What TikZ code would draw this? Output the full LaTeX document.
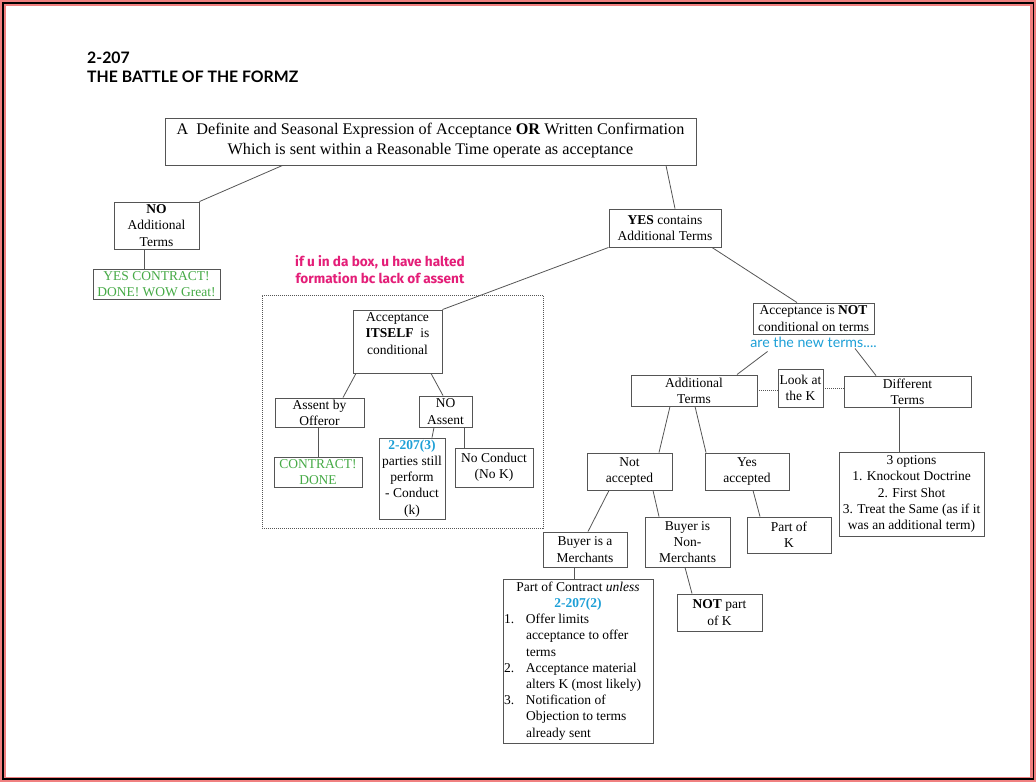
\documentclass[tikz,border=0pt]{standalone}
\usepackage{fontspec}
\setmainfont{Liberation Serif}
\newfontfamily\titlefont{Lato}
\newfontfamily\notefont{Fira Sans}
\usepackage{tikz}
\usetikzlibrary{positioning}

\definecolor{frame_pink}{RGB}{240,128,128}
\definecolor{note_pink}{RGB}{228,30,120}
\definecolor{rule_blue}{RGB}{30,160,215}
\definecolor{ok_green}{RGB}{70,170,70}
\definecolor{box_gray}{RGB}{85,85,85}

\tikzset{
  box_node/.style={draw=box_gray, line width=0.9pt, inner sep=1pt, align=center, font=\fontsize{13.5}{16.2}\selectfont},
  link/.style={draw=box_gray, line width=0.8pt},
  look_link/.style={draw=box_gray, line width=0.9pt, dash pattern=on 1pt off 1pt}
}

\begin{document}
\begin{tikzpicture}[
        x=1pt, y=-1pt,
        title_label/.style={font=\titlefont\bfseries\fontsize{15.8}{19}\selectfont, align=left, inner sep=0pt},
        note_label/.style={font=\notefont\bfseries\fontsize{13.6}{17}\selectfont, text=note_pink, align=center, inner sep=0pt},
        blue_label/.style={font=\titlefont\fontsize{14.2}{17}\selectfont, text=rule_blue, inner sep=0pt},
        halt_box/.style={draw=box_gray, line width=0.9pt, dash pattern=on 1pt off 1pt, inner sep=0pt}
    ]
    \useasboundingbox (0,0) rectangle (1036,782);

    % Marco
    \fill[frame_pink] (0,0) rectangle (1036,782);
    \draw[black, line width=1.6pt] (3,3) rectangle (1033.5,779);
    \fill[white] (5.5,5.5) rectangle (1030,776.5);

    \node[title_label, anchor=north west] (title) at (87,52) {2-207\\THE BATTLE OF THE FORMZ};

    % Pregunta principal
    \node[box_node, minimum width=531pt, minimum height=47pt, font=\fontsize{16.2}{20}\selectfont] (top) at (430.5,141.5)
        {A~~Definite and Seasonal Expression of Acceptance \textbf{OR} Written Confirmation\\Which is sent within a Reasonable Time operate as acceptance\rule[-6pt]{0pt}{0pt}};

    % Rama NO
    \node[box_node, minimum width=85pt, minimum height=47pt] (noadd) at (156.5,225.5) {\textbf{NO}\\Additional\\Terms};
    \node[box_node, text=ok_green, minimum width=127pt, minimum height=30pt] (yescon) at (156.5,284) {YES CONTRACT!\\DONE! WOW Great!};

    % Rama YES
    \node[box_node, minimum width=112pt, minimum height=38pt] (yesadd) at (665,228) {\textbf{YES} contains\\Additional Terms};

    % Caja punteada
    \node[note_label] (halt_note) at (380,270) {if u in da box, u have halted\\formation bc lack of assent};
    \node[halt_box, minimum width=281pt, minimum height=233pt] (haltbox) at (402.5,411.5) {};

    \node[box_node, minimum width=89pt, minimum height=63pt] (itself) at (397.5,341.5) {Acceptance\\\textbf{ITSELF}~~is\\conditional\\\mbox{}};
    \node[box_node, minimum width=89pt, minimum height=29pt] (offeror) at (319.5,412.5) {Assent by\\Offeror};
    \node[box_node, minimum width=53pt, minimum height=31pt] (noassent) at (445.5,411.5) {NO\\Assent};
    \node[box_node, text=ok_green, minimum width=88pt, minimum height=30pt] (done) at (318,472) {CONTRACT!\\DONE};
    \node[box_node, minimum width=66pt, minimum height=81pt] (twothree) at (412,478.5)
        {\textcolor{rule_blue}{\textbf{2-207(3)}}\\parties still\\perform\\- Conduct\\(k)};
    \node[box_node, minimum width=78pt, minimum height=39pt] (noconduct) at (494,467.5) {No Conduct\\(No K)};

    % No condicional
    \node[box_node, minimum width=121pt, minimum height=31pt] (notcond) at (813.5,318.5) {Acceptance is \textbf{NOT}\\conditional on terms};
    \node[blue_label] (newterms) at (813.5,342) {are the new terms....};

    \node[box_node, minimum width=126pt, minimum height=31pt] (addterms) at (694,390.5) {Additional\\Terms};
    \node[box_node, minimum width=45pt, minimum height=38pt] (lookk) at (800.5,388) {Look at\\the K};
    \node[box_node, minimum width=127pt, minimum height=31pt] (diffterms) at (907.5,391.5) {Different\\Terms};

    \node[box_node, minimum width=85pt, minimum height=37pt] (notacc) at (629.5,471.5) {Not\\accepted};
    \node[box_node, minimum width=84pt, minimum height=37pt] (yesacc) at (747,471.5) {Yes\\accepted};
    \node[box_node, minimum width=145pt, minimum height=84pt] (options) at (911.5,494)
        {3 options\\1. Knockout Doctrine\\2. First Shot\\3. Treat the Same (as if it\\was an additional term)};

    \node[box_node, minimum width=84pt, minimum height=35pt] (merch) at (585,549.5) {Buyer is a\\Merchants};
    \node[box_node, minimum width=85pt, minimum height=50pt] (nonmerch) at (687.5,542) {Buyer is\\Non-\\Merchants};
    \node[box_node, minimum width=84pt, minimum height=36pt] (partk) at (789,535) {Part of\\K};

    \node[box_node, minimum width=150pt, minimum height=164pt] (pcu) at (578,661) {%
        \begin{tabular}{@{}p{22pt}@{}p{126pt}@{}}
        \multicolumn{2}{c}{Part of Contract \textit{unless}}\\
        \multicolumn{2}{c}{\textcolor{rule_blue}{\textbf{2-207(2)}}}\\
        1. & Offer limits\\
           & acceptance to offer\\
           & terms\\
        2. & Acceptance material\\
           & alters K (most likely)\\
        3. & Notification of\\
           & Objection to terms\\
           & already sent
        \end{tabular}};
    \node[box_node, minimum width=85pt, minimum height=37pt] (notpart) at (719.5,612.5) {\textbf{NOT} part\\of K};

    % Conexiones
    \draw[link] ([xshift=-148pt]top.south) -- (noadd.north east);
    \draw[link] ([xshift=-12.5pt]noadd.south) -- ([xshift=-12.5pt]yescon.north);
    \draw[link] ([xshift=235.5pt]top.south) -- ([xshift=10pt]yesadd.north);
    \draw[link] (yesadd.south west) -- (itself.north east);
    \draw[link] ([xshift=47pt]yesadd.south) -- ([xshift=-16.5pt]notcond.north);

    \draw[link] ([xshift=-41.5pt]itself.south) -- ([xshift=23.5pt]offeror.north);
    \draw[link] ([xshift=33.5pt]itself.south) -- ([xshift=-2.5pt]noassent.north);
    \draw[link] ([xshift=-1.5pt]offeror.south) -- (done.north);
    \draw[link] ([xshift=-11.5pt]noassent.south) -- ([xshift=20pt]twothree.north);
    \draw[link] ([xshift=18.5pt]noassent.south) -- ([xshift=-30pt]noconduct.north);

    \draw[link] ([xshift=-46pt,yshift=-4pt]newterms.south) -- ([xshift=43pt]addterms.north);
    \draw[link] ([xshift=41.5pt,yshift=-1pt]newterms.south) -- ([xshift=-31.5pt]diffterms.north);
    \draw[look_link] (addterms.east) -- (addterms.east -| lookk.west);
    \draw[look_link] (lookk.east) -- (lookk.east -| diffterms.west);

    \draw[link] ([xshift=-24pt]addterms.south) -- ([xshift=29.5pt]notacc.north);
    \draw[link] ([xshift=1pt]addterms.south) -- ([xshift=-41pt]yesacc.north);
    \draw[link] ([xshift=-8pt]diffterms.south) -- ([xshift=-12pt]options.north);

    \draw[link] ([xshift=-20.5pt]notacc.south) -- ([xshift=3pt]merch.north);
    \draw[link] ([xshift=23.5pt]notacc.south) -- ([xshift=-28.5pt]nonmerch.north);
    \draw[link] ([xshift=6pt]yesacc.south) -- ([xshift=-29pt]partk.north);
    \draw[link] ([xshift=-11pt]merch.south) -- ([xshift=-4pt]pcu.north);
    \draw[link] ([xshift=-2.5pt]nonmerch.south) -- ([xshift=-27.5pt]notpart.north);

\end{tikzpicture}
\end{document}
